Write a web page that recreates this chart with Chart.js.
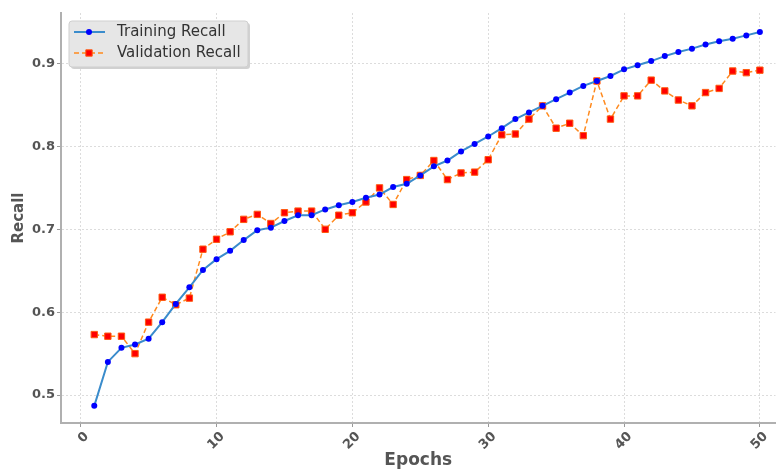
<!DOCTYPE html>
<html>
<head>
<meta charset="utf-8">
<script src="https://cdn.jsdelivr.net/npm/chart.js@4.4.1/dist/chart.umd.min.js"></script>
<style>
  html, body { margin: 0; padding: 0; background: #fff; }
  canvas { display: block; }
</style>
</head>
<body>
<canvas id="recallChart" width="781" height="471"></canvas>
<script>
const epochs = [1, 2, 3, 4, 5, 6, 7, 8, 9, 10,
  11, 12, 13, 14, 15, 16, 17, 18, 19, 20,
  21, 22, 23, 24, 25, 26, 27, 28, 29, 30,
  31, 32, 33, 34, 35, 36, 37, 38, 39, 40,
  41, 42, 43, 44, 45, 46, 47, 48, 49, 50];

const trainingRecall = [0.487, 0.540, 0.557, 0.561, 0.568, 0.588, 0.610, 0.630, 0.651, 0.664,
  0.674, 0.687, 0.699, 0.702, 0.710, 0.717, 0.717, 0.724, 0.729, 0.733,
  0.738, 0.742, 0.751, 0.755, 0.765, 0.776, 0.783, 0.794, 0.803, 0.812,
  0.822, 0.833, 0.841, 0.849, 0.857, 0.865, 0.873, 0.879, 0.885, 0.893,
  0.898, 0.903, 0.909, 0.914, 0.918, 0.923, 0.927, 0.930, 0.934, 0.938];

const validationRecall = [0.573, 0.571, 0.571, 0.550, 0.588, 0.618, 0.609, 0.617, 0.676, 0.688,
  0.697, 0.712, 0.718, 0.707, 0.720, 0.722, 0.722, 0.700, 0.717, 0.720,
  0.733, 0.750, 0.730, 0.760, 0.765, 0.783, 0.760, 0.768, 0.769, 0.784,
  0.814, 0.815, 0.833, 0.849, 0.822, 0.828, 0.813, 0.879, 0.833, 0.861,
  0.861, 0.880, 0.867, 0.856, 0.849, 0.865, 0.870, 0.891, 0.889, 0.892];

const xTicks = [0, 10, 20, 30, 40, 50];
const yTicks = [0.5, 0.6, 0.7, 0.8, 0.9];

const tickFont = { family: 'DejaVu Sans', size: 13, weight: 'bold' };
const axisGray = '#555555';

function toPoints(values) {
  return values.map((v, i) => ({ x: epochs[i], y: v }));
}

// matplotlib style legend box in the upper left corner
const boxLegend = {
  id: 'boxLegend',
  afterDraw(chart) {
    const ctx = chart.ctx;
    const x = 69, y = 21, w = 179, h = 46;
    ctx.save();
    ctx.fillStyle = 'rgba(0,0,0,0.18)';
    roundRect(ctx, x + 2, y + 2, w, h, 3);
    ctx.fill();
    ctx.fillStyle = '#e6e6e6';
    ctx.strokeStyle = '#cfcfcf';
    ctx.lineWidth = 1;
    roundRect(ctx, x, y, w, h, 3);
    ctx.fill();
    ctx.stroke();

    chart.data.datasets.forEach((ds, i) => {
      const rowY = y + 11 + i * 21;
      ctx.strokeStyle = ds.borderColor;
      ctx.lineWidth = ds.borderWidth;
      ctx.setLineDash(ds.borderDash || []);
      ctx.beginPath();
      ctx.moveTo(x + 5, rowY);
      ctx.lineTo(x + 36, rowY);
      ctx.stroke();
      ctx.setLineDash([]);
      ctx.fillStyle = ds.pointBackgroundColor;
      ctx.strokeStyle = ds.pointBorderColor;
      ctx.lineWidth = ds.pointBorderWidth;
      ctx.beginPath();
      if (ds.pointStyle === 'rect') {
        const s = ds.pointRadius * Math.SQRT1_2;
        ctx.rect(x + 20 - s, rowY - s, 2 * s, 2 * s);
      } else {
        ctx.arc(x + 20, rowY, ds.pointRadius, 0, Math.PI * 2);
      }
      ctx.fill();
      if (ds.pointBorderWidth) ctx.stroke();

      ctx.fillStyle = '#333333';
      ctx.font = '15px "DejaVu Sans"';
      ctx.textBaseline = 'middle';
      ctx.textAlign = 'left';
      ctx.fillText(ds.label, x + 48, rowY);
    });
    ctx.restore();
  }
};

function roundRect(ctx, x, y, w, h, r) {
  ctx.beginPath();
  ctx.moveTo(x + r, y);
  ctx.lineTo(x + w - r, y);
  ctx.arcTo(x + w, y, x + w, y + r, r);
  ctx.lineTo(x + w, y + h - r);
  ctx.arcTo(x + w, y + h, x + w - r, y + h, r);
  ctx.lineTo(x + r, y + h);
  ctx.arcTo(x, y + h, x, y + h - r, r);
  ctx.lineTo(x, y + r);
  ctx.arcTo(x, y, x + r, y, r);
  ctx.closePath();
}

new Chart(document.getElementById('recallChart'), {
  type: 'line',
  data: {
    datasets: [
      {
        label: 'Training Recall',
        data: toPoints(trainingRecall),
        borderColor: '#3a8ccc',
        borderWidth: 2,
        pointStyle: 'circle',
        pointRadius: 3,
        pointBackgroundColor: '#0000ff',
        pointBorderColor: '#0000ff',
        pointBorderWidth: 0,
        tension: 0
      },
      {
        label: 'Validation Recall',
        data: toPoints(validationRecall),
        borderColor: '#ff8a1e',
        borderWidth: 1.5,
        borderDash: [5, 3],
        pointStyle: 'rect',
        pointRadius: 4.5,
        pointBackgroundColor: '#ff0000',
        pointBorderColor: '#ff5a10',
        pointBorderWidth: 1,
        tension: 0
      }
    ]
  },
  options: {
    responsive: false,
    animation: false,
    devicePixelRatio: 1,
    layout: { padding: { top: 13, right: 0, left: 0, bottom: 0 } },
    plugins: {
      legend: { display: false },
      tooltip: { enabled: false }
    },
    scales: {
      x: {
        type: 'linear',
        min: -1.45,
        max: 51.15,
        afterBuildTicks: s => { s.ticks = xTicks.map(v => ({ value: v })); },
        afterFit: s => { s.height = 48; },
        ticks: {
          minRotation: 45,
          maxRotation: 45,
          labelOffset: 6,
          padding: 2,
          color: axisGray,
          font: tickFont
        },
        grid: { color: '#dcdcdc', tickColor: '#999999', tickLength: 4 },
        border: { color: '#b0b0b0', width: 2, dash: [2, 2] },
        title: {
          display: true,
          text: 'Epochs',
          color: axisGray,
          font: { family: 'DejaVu Sans', size: 17, weight: 'bold' },
          padding: { top: 0, bottom: 0 }
        }
      },
      y: {
        min: 0.4663,
        max: 0.961,
        afterBuildTicks: s => { s.ticks = yTicks.map(v => ({ value: v })); },
        afterFit: s => { s.width = 61; },
        ticks: {
          callback: v => v.toFixed(1),
          padding: 2,
          color: axisGray,
          font: tickFont
        },
        grid: { color: '#dcdcdc', tickColor: '#999999', tickLength: 4 },
        border: { color: '#b0b0b0', width: 2, dash: [2, 2] },
        title: {
          display: true,
          text: 'Recall',
          color: axisGray,
          font: { family: 'DejaVu Sans', size: 15, weight: 'bold' },
          padding: { top: 10, bottom: 0 }
        }
      }
    }
  },
  plugins: [boxLegend]
});
</script>
</body>
</html>
